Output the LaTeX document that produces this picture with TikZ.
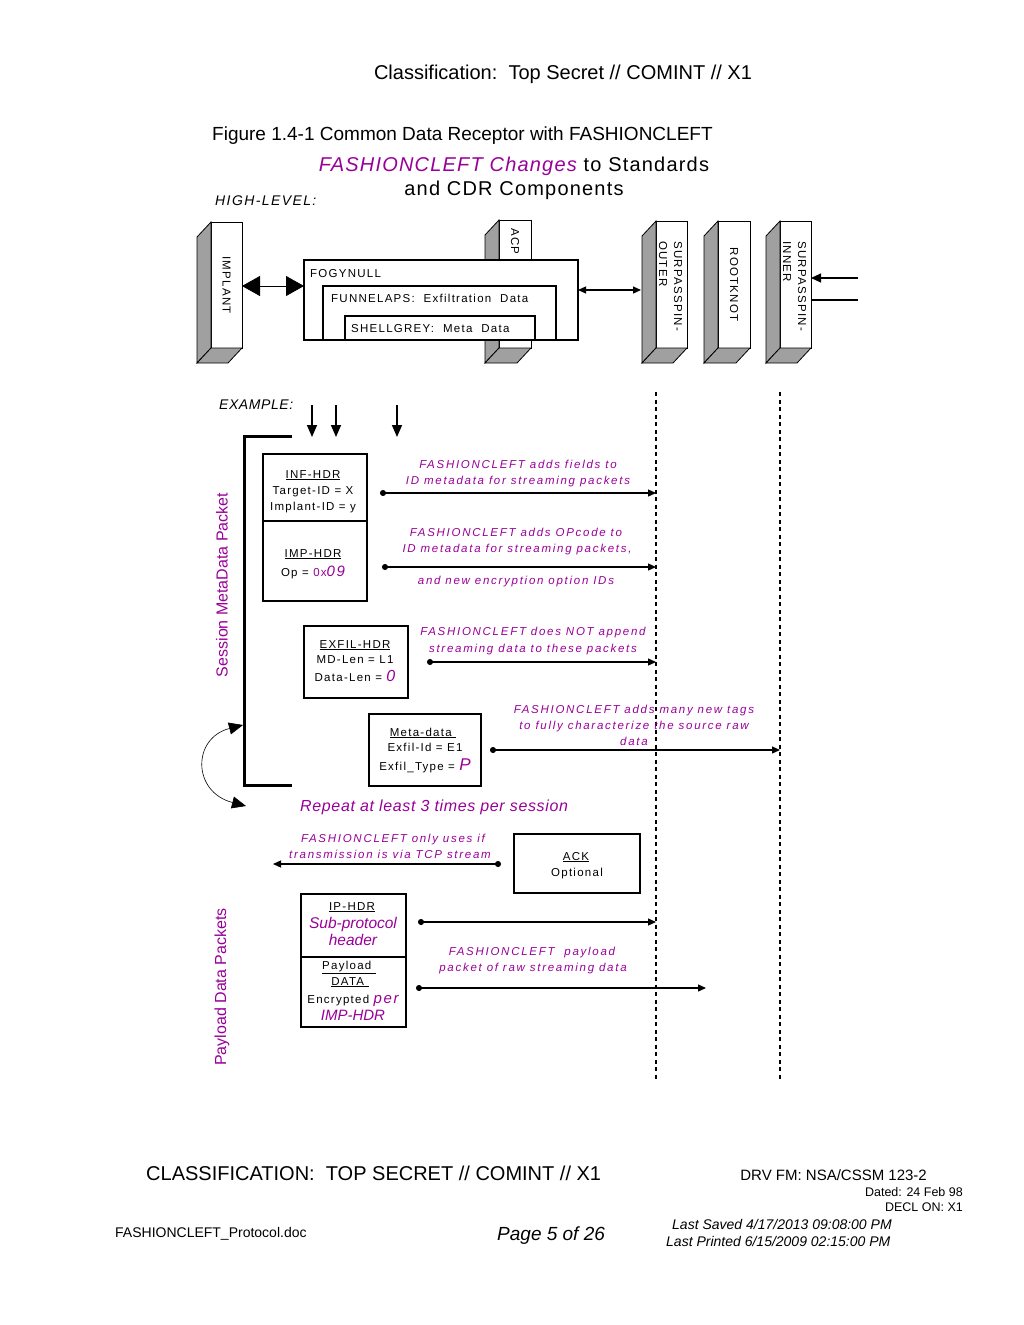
\documentclass[tikz,border=0pt]{standalone}
\usepackage{fontspec}
\setmainfont{Liberation Sans}
\newfontfamily\diag[LetterSpace=11]{Liberation Sans}
\newfontfamily\diagw[LetterSpace=15]{Liberation Sans}
\newfontfamily\ttl[LetterSpace=6]{Liberation Sans}
\newfontfamily\lbl[LetterSpace=4]{Liberation Sans}
\newfontfamily\lblw[LetterSpace=10]{Liberation Sans}
\usetikzlibrary{arrows.meta}
\definecolor{fcpurple}{RGB}{153,0,153}
\definecolor{shadegray}{RGB}{160,160,160}
\newcommand\slabbox[5]{%
  \node[frontface, minimum width=#4, minimum height=#5] (#1) at (#2,#3) {};
  \draw[sideface] (#1.north west) -- ++(-14,15) -- ++(0,#5) -- (#1.south west) -- cycle;
  \draw[sideface] (#1.south west) -- (#1.south east) -- ++(-14,15) -- ++(-#4,0) -- cycle;
}
\begin{document}
\begin{tikzpicture}[x=1pt,y=-1pt,
  frontface/.style={draw=black, fill=white, line width=1pt, inner sep=0pt, outer sep=0pt},
  sideface/.style={draw=black, fill=shadegray, line width=0.8pt},
  pbox/.style={draw=black, fill=white, line width=1.3pt, inner sep=0pt, outer sep=0pt},
  btxt/.style={font=\diag\fontsize{11.5}{13}\selectfont, anchor=base, inner sep=0pt},
  slabtxt/.style={font=\diag\fontsize{11.5}{13}\selectfont, rotate=-90, inner sep=0pt},
  desc/.style={font=\diagw\fontsize{11.5}{13}\selectfont\itshape, text=fcpurple, anchor=base, inner sep=0pt},
  plain/.style={anchor=base west, inner sep=0pt},
  dotarr/.style={line width=1.2pt, {Circle[length=6pt]}-{Triangle[length=8pt,width=7pt]}},
  bigdbl/.style={line width=0.8pt, {Triangle[length=18pt,width=20pt]}-{Triangle[length=18pt,width=20pt]}},
  smalldbl/.style={line width=1.2pt, {Triangle[length=8pt,width=7pt]}-{Triangle[length=8pt,width=7pt]}},
  downarr/.style={line width=1.6pt, -{Triangle[length=12pt,width=10pt]}},
  lifeline/.style={line width=2pt, dash pattern=on 4pt off 3.5pt},
  bracket/.style={line width=3pt},
]
\fill[white] (0,0) rectangle (1024,1325);
\useasboundingbox (0,0) rectangle (1024,1325);

% ---------- header ----------
\node[anchor=base, inner sep=0pt, font=\fontsize{20}{20}\selectfont] (hdr) at (563,79) {Classification:\ \ Top Secret // COMINT // X1};
\node[plain, font=\fontsize{19}{19}\selectfont] (fig) at (212,140) {Figure 1.4-1 Common Data Receptor with FASHIONCLEFT};
\node[anchor=base, inner sep=0pt, font=\ttl\fontsize{20}{20}\selectfont] (ttl1) at (514,171) {{\color{fcpurple}\itshape FASHIONCLEFT Changes} to Standards};
\node[anchor=base, inner sep=0pt, font=\ttl\fontsize{20}{20}\selectfont] (ttl2) at (514,195) {and CDR Components};
\node[plain, font=\lblw\fontsize{14}{14}\selectfont\itshape] (hl) at (215,205) {HIGH-LEVEL:};

% ---------- high level ----------
\slabbox{implant}{226.5}{285}{31}{126}
\node[slabtxt] (implanttxt) at (implant.center) {IMPLANT};
\slabbox{acp}{515}{284}{32}{128}
\node[slabtxt, anchor=west] (acptxt) at (515,228) {ACP};

\node[pbox, minimum width=274, minimum height=80] (fog) at (441,300) {};
\node[pbox, minimum width=233, minimum height=54] (fun) at (439.5,313) {};
\node[pbox, minimum width=190, minimum height=24] (shell) at (440,328) {};
\node[btxt, anchor=base west] (fogtxt) at (310,277) {FOGYNULL};
\node[btxt, anchor=base west] (funtxt) at (331,302) {FUNNELAPS:\ \ Exfiltration\ \ Data};
\node[btxt, anchor=base west] (shelltxt) at (351,332) {SHELLGREY:\ \ Meta\ \ Data};

\slabbox{outer}{671.5}{284.5}{31}{127}
\node[slabtxt, anchor=west] (outer1) at (678,241) {SURPASSPIN-};
\node[slabtxt, anchor=west] (outer2) at (663,241) {OUTER};
\slabbox{root}{734}{284.5}{32}{127}
\node[slabtxt] (roottxt) at (root.center) {ROOTKNOT};
\slabbox{inner}{795.5}{284.5}{31}{127}
\node[slabtxt, anchor=west] (inner1) at (802,241) {SURPASSPIN-};
\node[slabtxt, anchor=west] (inner2) at (787,241) {INNER};

\draw[bigdbl] (implant.east |- 0,286) -- (fog.west |- 0,286);
\draw[smalldbl] (fog.east |- 0,290) -- ([xshift=-15pt]outer.west |- 0,290);
\coordinate (in1) at (858,278);
\coordinate (in2) at (858,300);
\draw[line width=1.2pt, -{Triangle[length=10pt,width=9pt]}] (in1) -- (inner.east |- in1);
\draw[line width=1.2pt] (inner.east |- in2) -- (in2);

% ---------- example ----------
\node[plain, font=\lbl\fontsize{14}{14}\selectfont\itshape] (ex) at (219,409) {EXAMPLE:};
\coordinate (d1s) at (312,405); \coordinate (d1e) at (312,437);
\coordinate (d2s) at (336,405); \coordinate (d2e) at (336,437);
\coordinate (d3s) at (397,405); \coordinate (d3e) at (397,437);
\draw[downarr] (d1s) -- (d1e);
\draw[downarr] (d2s) -- (d2e);
\draw[downarr] (d3s) -- (d3e);

\coordinate (bA) at (292,436); \coordinate (bB) at (244,436);
\coordinate (bC) at (244,785); \coordinate (bD) at (292,785);
\draw[bracket] (bA) -- (bB) -- (bC) -- (bD);

\coordinate (cvA) at (243,725); \coordinate (cvB) at (246,806);
\draw[line width=0.6pt, {Triangle[length=14pt,width=12pt]}-{Triangle[length=14pt,width=12pt]}]
  (cvA) .. controls (192,738) and (192,792) .. (cvB);

\node[rotate=90, inner sep=0pt, text=fcpurple, font=\fontsize{16}{16}\selectfont] (sess) at (222,585) {Session MetaData Packet};
\node[rotate=90, inner sep=0pt, text=fcpurple, font=\fontsize{16}{16}\selectfont] (payl) at (222,987) {Payload Data Packets};

% lifelines
\coordinate (l1t) at (656,392); \coordinate (l1b) at (656,1080);
\coordinate (l2t) at (780,392); \coordinate (l2b) at (780,1080);
\draw[lifeline] (l1t) -- (l1b);
\draw[lifeline] (l2t) -- (l2b);

% INF / IMP box
\node[pbox, minimum width=104, minimum height=147] (infbox) at (315,527.5) {};
\draw[line width=1.3pt] (infbox.west |- 0,521) -- (infbox.east |- 0,521);
\node[btxt] (inf1) at (313,478) {\underline{INF-HDR}};
\node[btxt] (inf2) at (313,494) {Target-ID = X};
\node[btxt] (inf3) at (313,510) {Implant-ID = y};
\node[btxt] (imp1) at (313,557) {\underline{IMP-HDR}};
\node[btxt] (imp2) at (313,576) {Op = {\color{fcpurple}0x{\itshape\fontsize{15}{15}\selectfont 09}}};

\node[desc] (ds1a) at (518,468) {FASHIONCLEFT adds fields to};
\node[desc] (ds1b) at (518,484) {ID metadata for streaming packets};
\coordinate (a1s) at (380,493);
\draw[dotarr] (a1s) -- (l1t |- a1s);

\node[desc] (ds2a) at (516,536) {FASHIONCLEFT adds OPcode to};
\node[desc] (ds2b) at (517,552) {ID metadata for streaming packets,};
\node[desc] (ds2c) at (516,584) {and new encryption option IDs};
\coordinate (a2s) at (382,567);
\draw[dotarr] (a2s) -- (l1t |- a2s);

% EXFIL box
\node[pbox, minimum width=104, minimum height=72] (exbox) at (356,662) {};
\node[btxt] (ex1) at (355,648) {\underline{EXFIL-HDR}};
\node[btxt] (ex2) at (355,663) {MD-Len = L1};
\node[btxt] (ex3) at (355,681) {Data-Len = {\color{fcpurple}\itshape\fontsize{16}{16}\selectfont 0}};
\node[desc] (ds3a) at (533,635) {FASHIONCLEFT does NOT append};
\node[desc] (ds3b) at (533,652) {streaming data to these packets};
\coordinate (a3s) at (427,662);
\draw[dotarr] (a3s) -- (l1t |- a3s);

% Meta-data box
\node[pbox, minimum width=112, minimum height=72] (mdbox) at (425,750) {};
\node[btxt] (md1) at (423,736) {\underline{Meta-data\ }};
\node[btxt] (md2) at (425,751) {Exfil-Id = E1};
\node[btxt] (md3) at (425,770) {Exfil\_Type = {\color{fcpurple}\itshape\fontsize{17}{17}\selectfont P}};
\node[desc] (ds4a) at (634,713) {FASHIONCLEFT adds many new tags};
\node[desc] (ds4b) at (634,729) {to fully characterize the source raw};
\node[desc] (ds4c) at (634,745) {data};
\coordinate (a4s) at (490,750);
\draw[dotarr] (a4s) -- (l2t |- a4s);

\node[plain, text=fcpurple, font=\lbl\fontsize{16}{16}\selectfont\itshape] (rep) at (300,811) {Repeat at least 3 times per session};

% ACK
\node[desc] (ds5a) at (393,842) {FASHIONCLEFT only uses if};
\node[desc] (ds5b) at (390,858) {transmission is via TCP stream};
\coordinate (a5s) at (501,864); \coordinate (a5e) at (273,864);
\draw[dotarr] (a5s) -- (a5e);
\node[pbox, minimum width=126, minimum height=59] (ackbox) at (577,863.5) {};
\node[btxt] (ack1) at (576,860) {\underline{ACK}};
\node[btxt] (ack2) at (577,876) {Optional};

% IP box
\node[pbox, minimum width=105, minimum height=133] (ipbox) at (353.5,960.5) {};
\draw[line width=1.3pt] (ipbox.west |- 0,957) -- (ipbox.east |- 0,957);
\node[btxt] (ip1) at (352,910) {\underline{IP-HDR}};
\node[btxt, text=fcpurple, font=\fontsize{15.5}{16}\selectfont\itshape] (ip2) at (353,928) {Sub-protocol};
\node[btxt, text=fcpurple, font=\fontsize{15.5}{16}\selectfont\itshape] (ip3) at (353,945) {header};
\node[btxt] (ip4) at (349,969) {\underline{Payload\ }};
\node[btxt] (ip5) at (350,985) {\underline{DATA\ }};
\node[btxt] (ip6) at (353,1003) {Encrypted {\color{fcpurple}\itshape\fontsize{15}{15}\selectfont per}};
\node[btxt, text=fcpurple, font=\fontsize{15}{15}\selectfont\itshape] (ip7) at (353,1020) {IMP-HDR};
\coordinate (a6s) at (418,922);
\draw[dotarr] (a6s) -- (l1t |- a6s);
\node[desc] (ds6a) at (532,955) {FASHIONCLEFT\ \ payload};
\node[desc] (ds6b) at (533,971) {packet of raw streaming data};
\coordinate (a7s) at (416,988); \coordinate (a7e) at (706,988);
\draw[dotarr] (a7s) -- (a7e);

% ---------- footer ----------
\node[plain, font=\fontsize{20}{20}\selectfont] (fcls) at (146,1180) {CLASSIFICATION:\ \ TOP SECRET // COMINT // X1};
\node[anchor=base east, inner sep=0pt, font=\fontsize{15}{15}\selectfont] (drv) at (927,1180) {DRV FM: NSA/CSSM 123-2};
\node[anchor=base east, inner sep=0pt, font=\fontsize{12.5}{12.5}\selectfont] (dated) at (963,1196) {Dated: 24 Feb 98};
\node[anchor=base east, inner sep=0pt, font=\fontsize{12.5}{12.5}\selectfont] (decl) at (963,1211) {DECL ON: X1};
\node[plain, font=\fontsize{14}{14}\selectfont] (fname) at (115,1237) {FASHIONCLEFT\_Protocol.doc};
\node[plain, font=\fontsize{19}{19}\selectfont\itshape] (page) at (497,1240) {Page 5 of 26};
\node[plain, font=\fontsize{14}{14}\selectfont\itshape] (saved) at (672,1229) {Last Saved 4/17/2013 09:08:00 PM};
\node[plain, font=\fontsize{14}{14}\selectfont\itshape] (printed) at (666,1246) {Last Printed 6/15/2009 02:15:00 PM};
\end{tikzpicture}
\end{document}
